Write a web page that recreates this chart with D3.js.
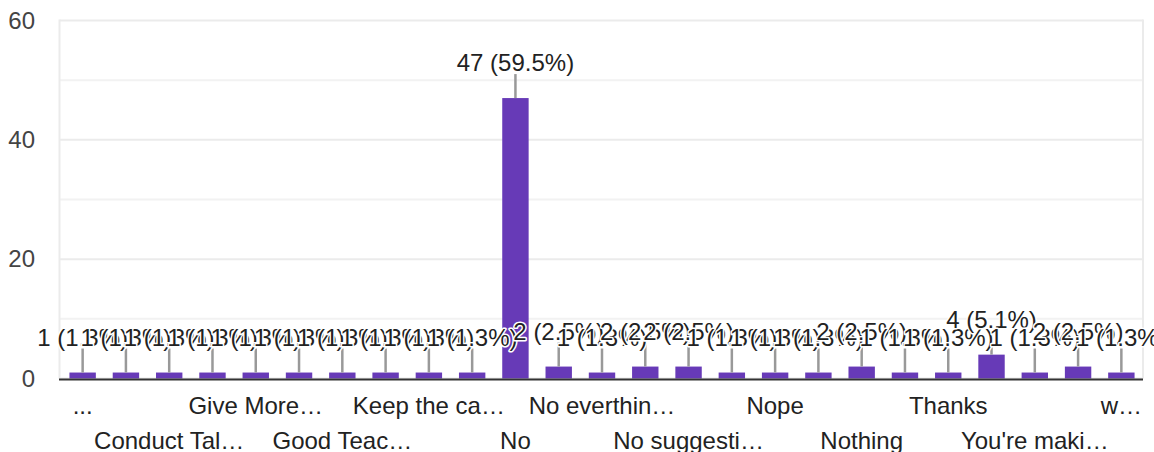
<!DOCTYPE html>
<html>
<head>
<meta charset="utf-8">
<script src="https://cdn.jsdelivr.net/npm/d3@7"></script>
<style>
  html, body { margin: 0; padding: 0; background: #fff; }
  svg { display: block; font-family: "Liberation Sans", Arial, sans-serif; }
</style>
</head>
<body>
<svg id="chart" width="1154" height="452"></svg>
<script>
// ---- data ----
const values = [1, 1, 1, 1, 1, 1, 1, 1, 1, 1, 47, 2, 1, 2, 2, 1, 1, 1, 2, 1, 1, 4, 1, 2, 1];
// visible category labels (Google Charts showed every other one)
const tickLabels = ["...", "", "Conduct Tal…", "", "Give More…", "", "Good Teac…", "",
  "Keep the ca…", "", "No", "", "No everthin…", "", "No suggesti…", "", "Nope", "",
  "Nothing", "", "Thanks", "", "You're maki…", "", "w…"];
const yTicks = [0, 20, 40, 60];
const yGrid = [0, 10, 20, 30, 40, 50, 60];

// ---- layout ----
const svg = d3.select("#chart");
const plotLeft = 61, plotRight = 1143, plotTop = 20.5, plotBottom = 378.5;
const total = d3.sum(values);

const x = d3.scaleBand().domain(d3.range(values.length)).range([plotLeft, plotRight])
  .paddingInner(0.39).paddingOuter(0.195);
const y = d3.scaleLinear().domain([0, 60]).range([plotBottom, plotTop]);

// gridlines
svg.append("g").selectAll("line").data(yGrid).join("line")
  .attr("x1", plotLeft - 1.5).attr("x2", plotRight)
  .attr("y1", d => y(d)).attr("y2", d => y(d))
  .attr("stroke", d => d % 20 === 0 ? "#ebebeb" : "#f2f2f2")
  .attr("stroke-width", 2);
// vertical frame lines
svg.append("line").attr("x1", plotLeft - 1.5).attr("x2", plotLeft - 1.5)
  .attr("y1", y(60) - 1).attr("y2", plotBottom).attr("stroke", "#ebebeb").attr("stroke-width", 2);
svg.append("line").attr("x1", plotRight).attr("x2", plotRight)
  .attr("y1", y(60) - 1).attr("y2", plotBottom).attr("stroke", "#ebebeb").attr("stroke-width", 2);

// y axis labels
const yAxis = svg.append("g").attr("transform", `translate(${plotLeft - 26},0)`)
  .call(d3.axisLeft(y).tickValues(yTicks).tickSize(0).tickPadding(0));
yAxis.select(".domain").remove();
yAxis.selectAll("text").attr("font-size", 24).attr("fill", "#444")
  .attr("font-family", "Liberation Sans, Arial, sans-serif");

// bars
svg.append("g").selectAll("rect").data(values).join("rect")
  .attr("x", (d, i) => x(i)).attr("width", x.bandwidth())
  .attr("y", d => y(d)).attr("height", d => y(0) - y(d))
  .attr("fill", "#673ab7");

// baseline
svg.append("line").attr("x1", plotLeft - 2).attr("x2", plotRight)
  .attr("y1", y(0) + 1).attr("y2", y(0) + 1).attr("stroke", "#333").attr("stroke-width", 2);

// x axis labels (two staggered rows)
const xAxis = svg.append("g").attr("transform", `translate(0,${y(0)})`)
  .call(d3.axisBottom(x).tickFormat(i => tickLabels[i]).tickSize(0).tickPadding(0));
xAxis.select(".domain").remove();
xAxis.selectAll("text")
  .attr("font-size", 24).attr("fill", "#222")
  .attr("font-family", "Liberation Sans, Arial, sans-serif")
  .attr("dy", null)
  .attr("y", i => (i / 2) % 2 === 0 ? 35 : 70.5);

// annotation stems
svg.append("g").selectAll("line").data(values).join("line")
  .attr("x1", (d, i) => x(i) + x.bandwidth() / 2)
  .attr("x2", (d, i) => x(i) + x.bandwidth() / 2)
  .attr("y1", d => y(d) - 24).attr("y2", d => y(d))
  .attr("stroke", "#999").attr("stroke-width", 2.5);

// annotation labels, drawn in order with white halo
const ann = svg.append("g");
values.forEach((d, i) => {
  ann.append("text")
    .attr("x", x(i) + x.bandwidth() / 2)
    .attr("y", y(d) - 27)
    .attr("text-anchor", "middle")
    .attr("font-size", 24)
    .attr("fill", "#222")
    .attr("stroke", "#fff").attr("stroke-width", 3)
    .attr("paint-order", "stroke")
    .attr("stroke-linejoin", "round")
    .text(`${d} (${(d / total * 100).toFixed(1)}%)`);
});
</script>
</body>
</html>
